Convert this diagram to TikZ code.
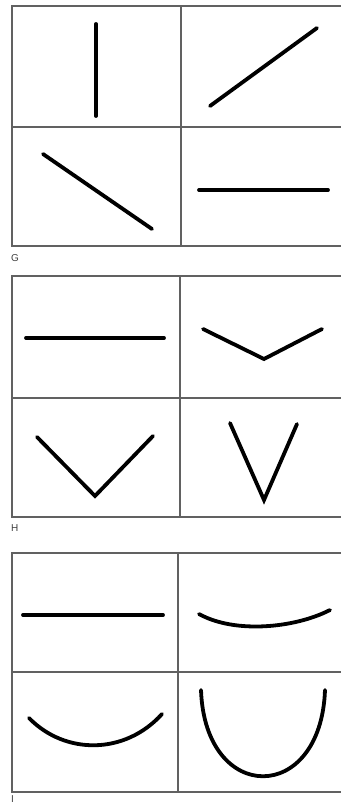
\documentclass[tikz,border=0pt]{standalone}
\usepackage{fontspec}
\setsansfont{Liberation Sans}

\begin{document}
\begin{tikzpicture}[x=1pt, y=-1pt,
  frame/.style={draw=black!62, line width=1.4pt},
  stroke/.style={line width=3.8pt, line cap=round, line join=miter},
  tag/.style={font=\sffamily\fontsize{10}{10}\selectfont, anchor=north west,
              inner sep=0pt, text=black!75}]
  \useasboundingbox[fill=white] (0,0) rectangle (340,805);

  % panel G
  \draw[frame] (342,6) -- (12,6) -- (12,246) -- (342,246);
  \draw[frame] (181,6) -- (181,246);
  \draw[frame] (12,127) -- (342,127);
  \draw[stroke] (96,24) -- (96,116);
  \draw[stroke] (210,106) -- (317,28);
  \draw[stroke] (43,154) -- (152,229);
  \draw[stroke] (199,190) -- (328,190);
  \node[tag] (labG) at (11,254) {G};

  % panel H
  \draw[frame] (342,276) -- (12,276) -- (12,517) -- (342,517);
  \draw[frame] (180,276) -- (180,517);
  \draw[frame] (12,398) -- (342,398);
  \draw[stroke] (26,338) -- (164,338);
  \draw[stroke] (203,329) -- (264,359) -- (322,329);
  \draw[stroke] (37,437) -- (95,496) -- (153,436);
  \draw[stroke] (230,423) -- (264,500) -- (297,424);
  \node[tag] (labH) at (11,524) {H};

  % panel I
  \draw[frame] (342,553) -- (12,553) -- (12,792) -- (342,792);
  \draw[frame] (178,553) -- (178,792);
  \draw[frame] (12,672) -- (342,672);
  \draw[stroke] (23,615) -- (163,615);
  \draw[stroke] (199,614) .. controls (235,634) and (295,628) .. (330,610);
  \draw[stroke] (29,718) .. controls (65,755) and (125,755) .. (162,714);
  \draw[stroke] (201,690) .. controls (205,805) and (321,805) .. (325,690);
  \node[tag] (labI) at (11,795) {I};
\end{tikzpicture}
\end{document}
